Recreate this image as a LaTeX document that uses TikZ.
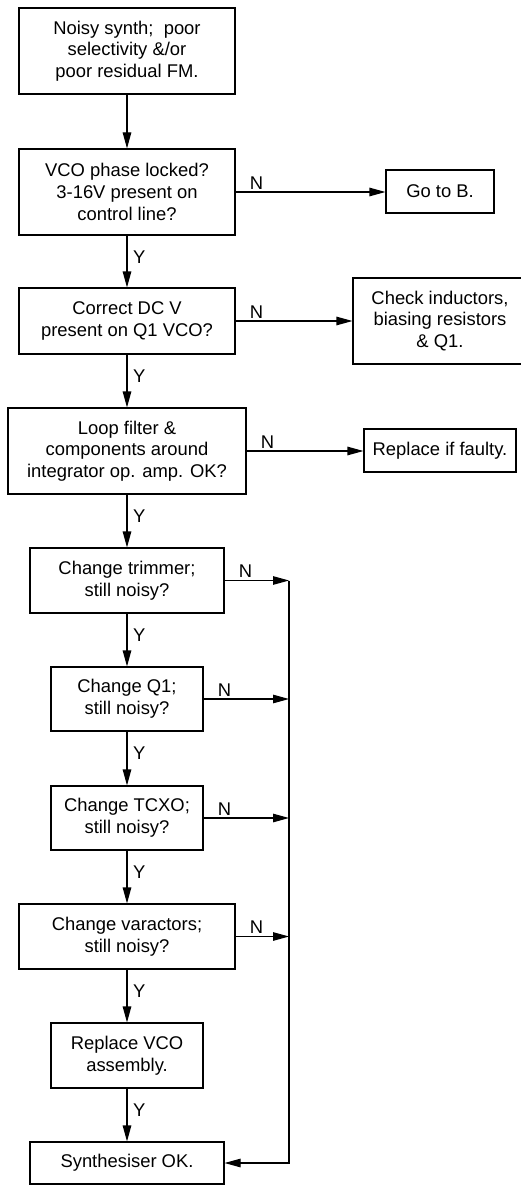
\documentclass[tikz,border=0pt]{standalone}
\usepackage{fontspec}
\setmainfont{Liberation Sans}
\usetikzlibrary{arrows.meta}
\tikzset{
  box/.style={draw, line width=1.1pt, rectangle, inner sep=0pt, align=center,
    font=\fontsize{18.4}{21.7}\selectfont},
  arr/.style={line width=1.1pt, -{Triangle[length=16pt,width=8.5pt]}},
  ylab/.style={font=\fontsize{18.4}{21.7}\selectfont, inner sep=0pt, anchor=west},
  nlab/.style={font=\fontsize{18.4}{21.7}\selectfont, inner sep=0pt, anchor=south},
}
\begin{document}
\begin{tikzpicture}[x=1pt, y=-1pt]
\useasboundingbox (0,0) rectangle (521,1185);
\clip (0,0) rectangle (521,1185);
\fill[white] (0,0) rectangle (521,1185);

% main column of checks
\node[box, minimum width=216pt, minimum height=86pt] (b1) at (127,51)
  {Noisy synth;\ \ poor\\selectivity \&/or\\poor residual FM.};
\node[box, minimum width=216pt, minimum height=86pt] (b2) at (127,192)
  {VCO phase locked?\\3-16V present on\\control line?};
\node[box, minimum width=216pt, minimum height=66pt] (b3) at (127,321)
  {Correct DC V\\present on Q1 VCO?};
\node[box, minimum width=238pt, minimum height=86pt] (b4) at (127,451)
  {Loop filter \&\\components around\\integrator op. amp. OK?};
\node[box, minimum width=194pt, minimum height=65pt] (b5) at (127,580.5)
  {Change trimmer;\\still noisy?};
\node[box, minimum width=152pt, minimum height=64pt] (b6) at (127,699)
  {Change Q1;\\still noisy?};
\node[box, minimum width=152pt, minimum height=64pt] (b7) at (127,818)
  {Change TCXO;\\still noisy?};
\node[box, minimum width=216pt, minimum height=65pt] (b8) at (127,936.5)
  {Change varactors;\\still noisy?};
\node[box, minimum width=152pt, minimum height=65pt] (b9) at (127,1055.5)
  {Replace VCO\\assembly.};
\node[box, minimum width=194pt, minimum height=42pt] (b10) at (127,1163)
  {Synthesiser OK.};

% side outcomes
\node[box, minimum width=108pt, minimum height=43pt] (gob) at (440,191.5) {Go to B.};
\node[box, minimum width=174pt, minimum height=86pt] (chk) at (440,321)
  {Check inductors,\\biasing resistors\\\& Q1.};
\node[box, minimum width=152pt, minimum height=43pt] (rep) at (440,450.5) {Replace if faulty.};

% return bus on the right
\coordinate (bus) at (289,0);

% Y path
\draw[arr] (b1) -- (b2);
\foreach \a/\b in {b2/b3, b3/b4, b4/b5, b5/b6, b6/b7, b7/b8, b8/b9, b9/b10}{
  \draw[arr] (\a) -- (\b);
  \node[ylab] at ([xshift=6pt, yshift=-22pt]\a.south) {Y};
}

% N branches
\draw[arr] (b2.east) -- (b2.east -| gob.west);
\draw[arr] (b3.east) -- (b3.east -| chk.west);
\draw[arr] (b4.east) -- (b4.east -| rep.west);
\foreach \a in {b5, b6, b7, b8}{
  \draw[arr] (\a.east) -- (\a.east -| bus);
}
\foreach \a in {b2, b3, b4, b5, b6, b7, b8}{
  \node[nlab] at ([xshift=21pt, yshift=2.5pt]\a.east) {N};
}
\draw[arr] (b5.east -| bus) |- (b10.east);
\end{tikzpicture}
\end{document}
